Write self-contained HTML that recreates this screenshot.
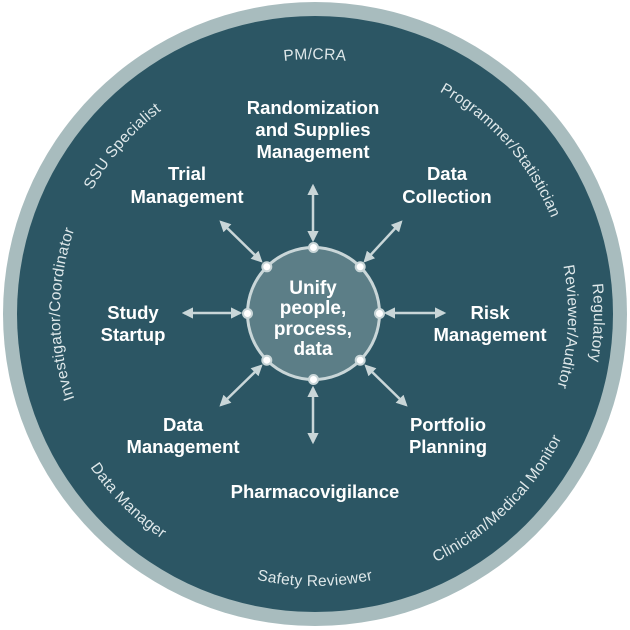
<!DOCTYPE html>
<html><head><meta charset="utf-8"><style>
html,body{margin:0;padding:0;background:#fff;}
svg{display:block;}
.b{font-family:"Liberation Sans",sans-serif;font-weight:bold;font-size:18.5px;fill:#fff;text-anchor:middle;}
.r{font-family:"Liberation Sans",sans-serif;font-size:15.5px;letter-spacing:0.3px;fill:#dfe8ea;}
</style></head><body>
<svg width="630" height="630" viewBox="0 0 630 630" xmlns="http://www.w3.org/2000/svg">
<defs>
<marker id="ah" viewBox="0 0 10 10" refX="8" refY="5" markerWidth="4.5" markerHeight="4.5" orient="auto-start-reverse">
<path d="M0,0 L10,5 L0,10 z" fill="#c9d6d8"/></marker>
<path id="cw255" d="M315,569 A255,255 0 1 1 315,59 A255,255 0 1 1 315,569"/>
<path id="cw279" d="M315,593 A279,279 0 1 1 315,35 A279,279 0 1 1 315,593"/>
<path id="cw253" d="M315,567 A253,253 0 1 1 315,61 A253,253 0 1 1 315,567"/>
<path id="ccw272" d="M315,42 A272,272 0 1 0 315,586 A272,272 0 1 0 315,42"/>
<path id="ccw276" d="M315,38 A276,276 0 1 0 315,590 A276,276 0 1 0 315,38"/>
</defs>
<circle cx="315" cy="314" r="312" fill="#a8bcbe"/>
<circle cx="315" cy="314" r="298" fill="#2c5664"/>

<text class="r"><textPath href="#cw255" startOffset="50%" text-anchor="middle">PM/CRA</textPath></text>
<text class="r"><textPath href="#cw255" startOffset="63.5%" text-anchor="middle">Programmer/Statistician</textPath></text>
<text class="r"><textPath href="#cw255" startOffset="36.4%" text-anchor="middle">SSU Specialist</textPath></text>
<text class="r"><textPath href="#cw255" startOffset="25%" text-anchor="middle">Investigator/Coordinator</textPath></text>
<text class="r"><textPath href="#cw279" startOffset="75.5%" text-anchor="middle">Regulatory</textPath></text>
<text class="r"><textPath href="#cw253" startOffset="75.8%" text-anchor="middle">Reviewer/Auditor</textPath></text>
<text class="r"><textPath href="#ccw272" startOffset="50%" text-anchor="middle">Safety Reviewer</textPath></text>
<text class="r"><textPath href="#ccw272" startOffset="37.5%" text-anchor="middle">Data Manager</textPath></text>
<text class="r"><textPath href="#ccw276" startOffset="62.4%" text-anchor="middle">Clinician/Medical Monitor</textPath></text>

<g stroke="#c9d6d8" stroke-width="2.5" fill="none" marker-start="url(#ah)" marker-end="url(#ah)">
<line x1="313" y1="186" x2="313" y2="240"/>
<line x1="313" y1="388" x2="313" y2="442"/>
<line x1="184" y1="313" x2="240" y2="313"/>
<line x1="386" y1="313" x2="444" y2="313"/>
<line x1="221" y1="222" x2="261" y2="261"/>
<line x1="401" y1="222" x2="365" y2="261"/>
<line x1="261" y1="366" x2="221" y2="405"/>
<line x1="366" y1="366" x2="406" y2="405"/>
</g>

<circle cx="313.5" cy="313.5" r="66" fill="#5c7e87" stroke="#c9d6d8" stroke-width="3"/>
<g fill="#fff" stroke="#c9d6d8" stroke-width="2">
<circle cx="313.5" cy="247.5" r="4.5"/><circle cx="313.5" cy="379.5" r="4.5"/>
<circle cx="247.5" cy="313.5" r="4.5"/><circle cx="379.5" cy="313.5" r="4.5"/>
<circle cx="266.8" cy="266.8" r="4.5"/><circle cx="360.2" cy="266.8" r="4.5"/>
<circle cx="266.8" cy="360.2" r="4.5"/><circle cx="360.2" cy="360.2" r="4.5"/>
</g>
<g class="b" style="font-size:19px">
<text x="313" y="294">Unify</text>
<text x="313" y="314">people,</text>
<text x="313" y="335">process,</text>
<text x="313" y="355">data</text>
</g>
<g class="b">
<text x="313" y="114">Randomization</text>
<text x="313" y="136">and Supplies</text>
<text x="313" y="158">Management</text>
<text x="187" y="180">Trial</text>
<text x="187" y="203">Management</text>
<text x="447" y="180">Data</text>
<text x="447" y="203">Collection</text>
<text x="133" y="319">Study</text>
<text x="133" y="341">Startup</text>
<text x="490" y="319">Risk</text>
<text x="490" y="341">Management</text>
<text x="183" y="431">Data</text>
<text x="183" y="453">Management</text>
<text x="448" y="431">Portfolio</text>
<text x="448" y="453">Planning</text>
<text x="315" y="498">Pharmacovigilance</text>
</g>
</svg>
</body></html>
